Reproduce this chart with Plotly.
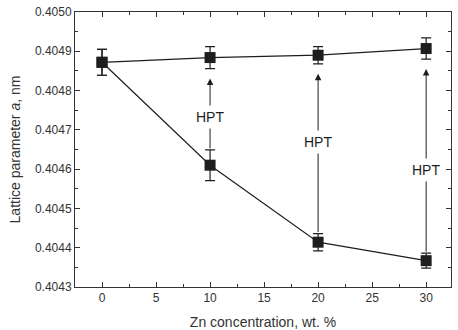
import plotly.graph_objects as go

# Data
zn = [0, 10, 20, 30]
a_hpt = [0.404872, 0.404884, 0.404890, 0.404907]
a_hpt_err = [0.000033, 0.000028, 0.000022, 0.000027]
a_init = [0.404872, 0.404610, 0.404414, 0.404367]
a_init_err = [0.000033, 0.000039, 0.000022, 0.000019]
label_y = [0.404734, 0.404668, 0.404599]
label_text = "HPT"

ink = "#1e1e1e"
axc = "#333333"
font = "Liberation Sans, Arial, sans-serif"

fig = go.Figure()
fig.add_trace(go.Scatter(
    x=zn, y=a_init, mode="lines+markers",
    line=dict(color=ink, width=1.2),
    marker=dict(symbol="square", size=11, color=ink),
    error_y=dict(type="data", array=a_init_err, color=ink, thickness=1.2, width=5),
    showlegend=False))
fig.add_trace(go.Scatter(
    x=zn, y=a_hpt, mode="lines+markers",
    line=dict(color=ink, width=1.2),
    marker=dict(symbol="square", size=11, color=ink),
    error_y=dict(type="data", array=a_hpt_err, color=ink, thickness=1.2, width=5),
    showlegend=False))

# Arrows from initial state to HPT state
for i in range(1, len(zn)):
    fig.add_annotation(
        x=zn[i], y=a_hpt[i] - a_hpt_err[i] - 0.000025,
        ax=zn[i], ay=a_init[i] + a_init_err[i],
        xref="x", yref="y", axref="x", ayref="y",
        text="", showarrow=True, arrowhead=2, arrowsize=1.3,
        arrowwidth=1, arrowcolor=ink, standoff=0, startstandoff=0)
for i in range(1, len(zn)):
    fig.add_annotation(
        x=zn[i], y=label_y[i - 1], xref="x", yref="y",
        text=label_text, showarrow=False, bgcolor="white",
        font=dict(family=font, size=14, color=ink), borderpad=3)

axis_common = dict(
    showline=True, linecolor=axc, linewidth=1, mirror="ticks",
    ticks="inside", ticklen=5, tickcolor=axc, showgrid=False,
    zeroline=False, tickfont=dict(family=font, size=12, color=axc),
    automargin=False,
)
fig.update_xaxes(
    range=[-2.5, 32.3], tick0=0, dtick=5,
    minor=dict(ticks="inside", ticklen=3, dtick=2.5, tick0=0, tickcolor=axc),
    title=dict(text="Zn concentration, wt. %", font=dict(family=font, size=14, color=axc), standoff=14),
    **axis_common)
fig.update_yaxes(
    range=[0.4043, 0.4050], tick0=0.4043, dtick=0.0001, tickformat=".4f",
    minor=dict(ticks="inside", ticklen=3, dtick=0.00005, tickcolor=axc),
    title=dict(text="Lattice parameter <i>a</i>, nm", font=dict(family=font, size=14, color=axc), standoff=10),
    **axis_common)

fig.update_layout(
    width=458, height=330,
    margin=dict(l=75, r=7, t=12, b=43),
    plot_bgcolor="white", paper_bgcolor="white",
)
fig.write_html("out.html")
